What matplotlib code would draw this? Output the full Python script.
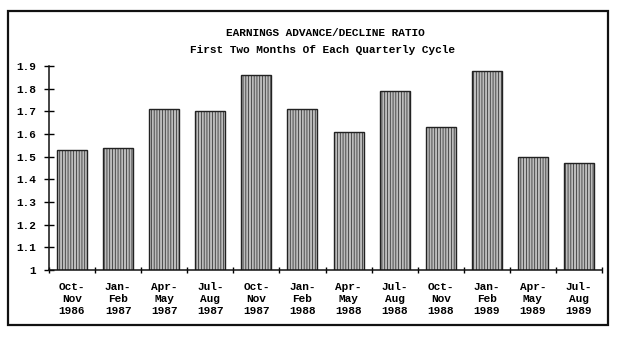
import matplotlib
matplotlib.use("Agg")
import matplotlib.pyplot as plt
from matplotlib.patches import Rectangle
import numpy as np

# Earnings advance/decline ratio, first two months of each quarterly cycle
periods = ["Oct-\nNov\n1986", "Jan-\nFeb\n1987", "Apr-\nMay\n1987", "Jul-\nAug\n1987",
           "Oct-\nNov\n1987", "Jan-\nFeb\n1988", "Apr-\nMay\n1988", "Jul-\nAug\n1988",
           "Oct-\nNov\n1988", "Jan-\nFeb\n1989", "Apr-\nMay\n1989", "Jul-\nAug\n1989"]
ratios = [1.53, 1.54, 1.71, 1.70, 1.86, 1.71, 1.61, 1.79, 1.63, 1.88, 1.50, 1.47]
yticks = [1, 1.1, 1.2, 1.3, 1.4, 1.5, 1.6, 1.7, 1.8, 1.9]
ytick_labels = ["1", "1.1", "1.2", "1.3", "1.4", "1.5", "1.6", "1.7", "1.8", "1.9"]

plt.rcParams['font.family'] = ['Liberation Mono', 'DejaVu Sans Mono']
plt.rcParams['font.weight'] = 'bold'
plt.rcParams['hatch.color'] = '#808080'
plt.rcParams['hatch.linewidth'] = 0.5

W, H = 629, 342
fig = plt.figure(figsize=(W / 100, H / 100), dpi=100)
fig.patch.set_facecolor('white')

# outer frame
fig.patches.append(Rectangle((8 / W, 1 - 325 / H), 600 / W, 314 / H,
                             transform=fig.transFigure, fill=False,
                             edgecolor='#111111', linewidth=1.6))

ax = fig.add_axes([49 / W, 1 - 270 / H, 553 / W, 204 / H])
x = np.arange(len(ratios))
ax.bar(x, ratios, width=0.65, bottom=0, color='#bcbcbc', edgecolor='#222222',
       linewidth=1.0, hatch='||||||')
ax.set_xlim(-0.5, len(ratios) - 0.5)
ax.set_ylim(1, 1.9)

for s in ['top', 'right']:
    ax.spines[s].set_visible(False)
for s in ['left', 'bottom']:
    ax.spines[s].set_linewidth(1.1)
    ax.spines[s].set_color('#111111')

ax.set_yticks(yticks)
ax.set_yticklabels(ytick_labels, fontsize=8, fontweight='bold')
ax.tick_params(axis='y', direction='inout', length=7, width=1, pad=6)

ax.set_xticks(x)
ax.set_xticklabels(periods, fontsize=8, fontweight='bold', linespacing=1.25)
ax.set_xticks(np.arange(len(ratios) + 1) - 0.5, minor=True)
ax.tick_params(axis='x', which='major', length=0, pad=9)
ax.tick_params(axis='x', which='minor', direction='inout', length=5, width=1)

fig.text(325 / W, 1 - 33 / H, "EARNINGS ADVANCE/DECLINE RATIO", ha='center',
         va='center', fontsize=8, fontweight='bold')
fig.text(322 / W, 1 - 50 / H, "First Two Months Of Each Quarterly Cycle", ha='center',
         va='center', fontsize=8, fontweight='bold')

fig.savefig("out.png", dpi=100)
